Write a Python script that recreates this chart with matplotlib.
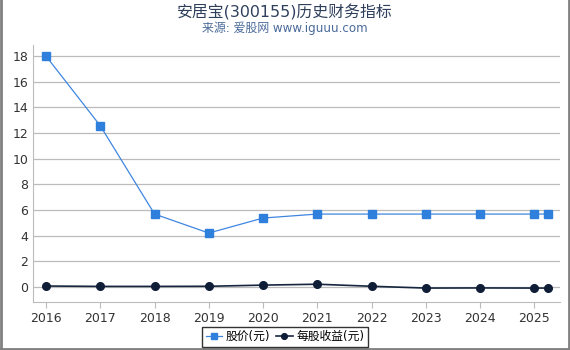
import matplotlib
matplotlib.use('Agg')
import matplotlib.pyplot as plt
from matplotlib.lines import Line2D

plt.rcParams['font.family'] = ['DejaVu Sans', 'Noto Sans CJK SC']

# 数据
years = [2016, 2017, 2018, 2019, 2020, 2021, 2022, 2023, 2024, 2025, 2025.25]
price = [18.0, 12.57, 5.69, 4.21, 5.38, 5.69, 5.69, 5.69, 5.69, 5.69, 5.69]
eps = [0.08, 0.05, 0.05, 0.06, 0.15, 0.22, 0.06, -0.08, -0.07, -0.08, -0.08]
xticks = [2016, 2017, 2018, 2019, 2020, 2021, 2022, 2023, 2024, 2025]
yticks = [0, 2, 4, 6, 8, 10, 12, 14, 16, 18]

fig = plt.figure(figsize=(5.7, 3.5), dpi=100)
fig.patch.set_facecolor('white')
ax = fig.add_axes([0.058, 0.137, 0.925, 0.734])

ax.plot(years, price, color='#3f86e0', lw=0.9, marker='s', ms=5.5,
        mfc='#2f7fdd', mec='#2f7fdd', label='股价(元)', zorder=3)
ax.plot(years, eps, color='#16263f', lw=1.2, marker='o', ms=5.5,
        mfc='#0f1d36', mec='#0f1d36', label='每股收益(元)', zorder=3)

ax.set_xlim(2015.76, 2025.48)
ax.set_ylim(-1.17, 18.86)
ax.set_xticks(xticks)
ax.set_yticks(yticks)
ax.tick_params(axis='both', labelsize=9, colors='#333333', length=4)
ax.tick_params(axis='x', color='#bbbbbb')
ax.tick_params(axis='y', length=0)
ax.yaxis.grid(True, color='#bbbbbb', lw=0.9)
ax.set_axisbelow(True)
for s in ['top', 'right']:
    ax.spines[s].set_visible(False)
ax.spines['left'].set_color('#bbbbbb')
ax.spines['bottom'].set_color('#bbbbbb')

fig.text(0.5, 0.965, '安居宝(300155)历史财务指标', ha='center', va='center',
         fontsize=11.4, color='#2e3f5c')
fig.text(0.5, 0.918, '来源: 爱股网 www.iguuu.com', ha='center', va='center',
         fontsize=8.6, color='#4a6a9a')

leg = fig.legend(loc='center', bbox_to_anchor=(0.5, 0.038),
                 ncol=2, fontsize=8.5, frameon=True, fancybox=False,
                 handlelength=1.4, handletextpad=0.3, columnspacing=0.5,
                 borderpad=0.3, markerscale=0.75)
leg.get_frame().set_edgecolor('black')
leg.get_frame().set_linewidth(1.0)

# 外边框 (左, 右, 下)
fig.add_artist(Line2D([0.001, 0.001], [0, 1], transform=fig.transFigure, color='#808080', lw=2))
fig.add_artist(Line2D([0.998, 0.998], [0, 1], transform=fig.transFigure, color='#808080', lw=2))
fig.add_artist(Line2D([0, 1], [0.002, 0.002], transform=fig.transFigure, color='#808080', lw=2))

fig.savefig('out.png', dpi=100, facecolor='white')
